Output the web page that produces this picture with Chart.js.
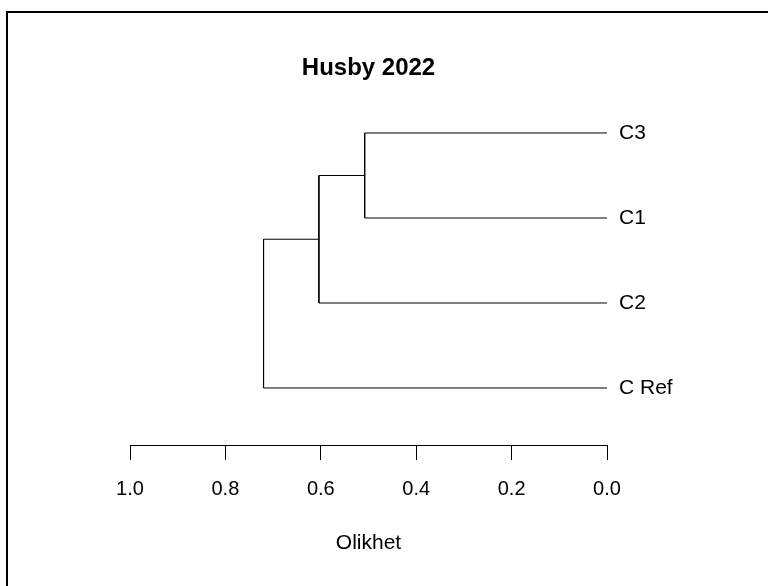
<!DOCTYPE html>
<html>
<head>
<meta charset="utf-8">
<title>Husby 2022</title>
<script src="https://cdn.jsdelivr.net/npm/chart.js@4.4.1/dist/chart.umd.min.js"></script>
<style>
  html, body { margin: 0; padding: 0; background: #fff; }
  #wrap { position: relative; width: 768px; height: 586px; overflow: hidden; }
  #frame {
    position: absolute; left: 6px; top: 11px; width: 800px; height: 600px;
    border-left: 2px solid #000; border-top: 2px solid #000;
  }
  #c { position: absolute; left: 0; top: 0; }
</style>
</head>
<body>
<div id="wrap">
  <div id="frame"></div>
  <canvas id="c" width="768" height="586"></canvas>
</div>
<script>
// Leaves in plotting order (top to bottom)
const leaves = ['C3', 'C1', 'C2', 'C Ref'];
// Agglomeration steps: the two joined clusters and the dissimilarity at which they join
const mergeLeft   = ['C3', 'm1', 'm2'];
const mergeRight  = ['C1', 'C2', 'C Ref'];
const mergeHeight = [0.508, 0.604, 0.720];
// Dissimilarity axis ticks
const xTicks = [0, 0.2, 0.4, 0.6, 0.8, 1.0];

// Node positions: leaves sit at height 0, internal nodes at the midpoint of their children
const nodes = {};
leaves.forEach((name, i) => { nodes[name] = { h: 0, y: i + 1 }; });
const datasets = [];
mergeHeight.forEach((h, i) => {
  const a = nodes[mergeLeft[i]];
  const b = nodes[mergeRight[i]];
  nodes['m' + (i + 1)] = { h: h, y: (a.y + b.y) / 2 };
  datasets.push({
    data: [
      { x: a.h, y: a.y },
      { x: h,   y: a.y },
      { x: h,   y: b.y },
      { x: b.h, y: b.y }
    ],
    showLine: true,
    borderColor: '#000',
    borderWidth: 1,
    pointRadius: 0,
    fill: false,
    tension: 0
  });
});

Chart.defaults.font.family = '"Liberation Sans", Arial, sans-serif';
Chart.defaults.color = '#000';

new Chart(document.getElementById('c'), {
  type: 'scatter',
  data: { datasets: datasets },
  options: {
    responsive: false,
    animation: false,
    devicePixelRatio: 1,
    layout: { padding: { left: 130, right: 0, top: 0, bottom: 0 } },
    plugins: {
      legend: { display: false },
      tooltip: { enabled: false },
      title: {
        display: true,
        text: 'Husby 2022',
        fullSize: false,
        color: '#000',
        font: { size: 24, weight: 'bold' },
        padding: { top: 54.1, bottom: 7.6 }
      }
    },
    scales: {
      x: {
        type: 'linear',
        position: 'bottom',
        reverse: true,
        min: 0,
        max: 1,
        afterBuildTicks: s => { s.ticks = xTicks.map(v => ({ value: v })); },
        afterFit: s => { s.height = 141; },
        ticks: {
          padding: 17.6,
          color: '#000',
          font: { size: 20 },
          maxRotation: 0,
          callback: v => Number(v).toFixed(1)
        },
        grid: {
          drawOnChartArea: false,
          drawTicks: true,
          tickLength: 15,
          tickColor: '#000',
          tickWidth: 1
        },
        border: { display: true, color: '#000', width: 1 },
        title: {
          display: true,
          text: 'Olikhet',
          color: '#000',
          font: { size: 21 },
          padding: { top: 0, bottom: 30.4 }
        }
      },
      y: {
        type: 'linear',
        position: 'right',
        reverse: true,
        min: 0.5,
        max: 4.6706,
        afterBuildTicks: s => { s.ticks = leaves.map((_, i) => ({ value: i + 1 })); },
        afterFit: s => { s.width = 161; },
        ticks: {
          padding: 12,
          color: '#000',
          font: { size: 21 },
          callback: v => leaves[Math.round(v) - 1] || ''
        },
        grid: { display: false, drawTicks: false, tickLength: 0 },
        border: { display: false }
      }
    }
  }
});
</script>
</body>
</html>
